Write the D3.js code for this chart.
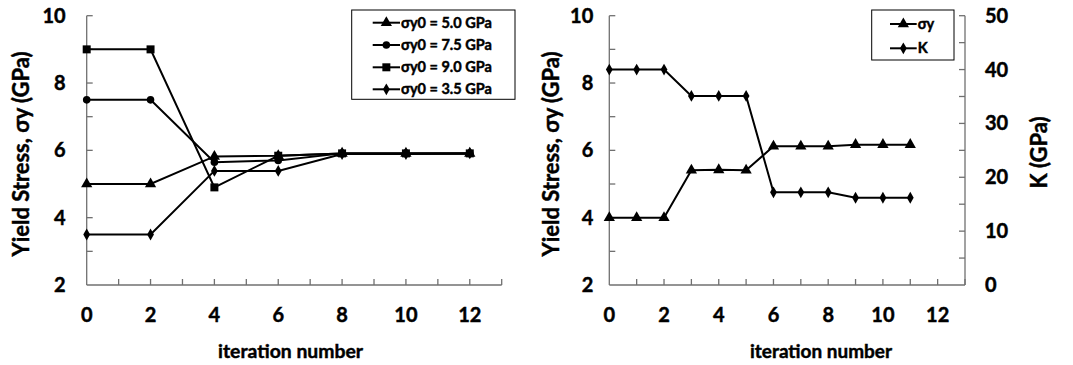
<!DOCTYPE html>
<html><head><meta charset="utf-8">
<script src="https://cdn.jsdelivr.net/npm/d3@7"></script>
<style>body{margin:0;background:#fff}svg{display:block}text{font-family:Lato,"Liberation Sans",Arial,sans-serif;font-weight:bold;fill:#000;stroke:#000;stroke-width:0.45px}</style>
</head><body>
<script>
// ---- data ----
const iterLeft = [0, 2, 4, 6, 8, 10, 12];
const sy50 = [5.0, 5.0, 5.82, 5.84, 5.91, 5.91, 5.91];
const sy75 = [7.5, 7.5, 5.65, 5.70, 5.91, 5.91, 5.91];
const sy90 = [9.0, 9.0, 4.9, 5.84, 5.91, 5.91, 5.91];
const sy35 = [3.5, 3.5, 5.39, 5.39, 5.89, 5.89, 5.91];
const leftNames = ["σy0 = 5.0 GPa", "σy0 = 7.5 GPa", "σy0 = 9.0 GPa", "σy0 = 3.5 GPa"];

const iterRight = [0, 1, 2, 3, 4, 5, 6, 7, 8, 9, 10, 11];
const sigmaY = [4.0, 4.0, 4.0, 5.41, 5.42, 5.41, 6.12, 6.12, 6.12, 6.17, 6.17, 6.17];
const kVals = [40, 40, 40, 35.1, 35.1, 35.1, 17.2, 17.2, 17.2, 16.2, 16.2, 16.2];
const rightNames = ["σy", "K"];

const xTicks = [0, 2, 4, 6, 8, 10, 12];
const yTicks = [2, 4, 6, 8, 10];
const kTicks = [0, 10, 20, 30, 40, 50];

const W = 1073, H = 365;
const svg = d3.select("body").append("svg").attr("width", W).attr("height", H);
const axisCol = "#707070";

const sym = {
  tri: d3.symbol().type(d3.symbolTriangle).size(55),
  cir: d3.symbol().type(d3.symbolCircle).size(45),
  sq: d3.symbol().type(d3.symbolSquare).size(64),
  dia: d3.symbol().type(d3.symbolDiamond).size(40)
};

// size a text so that its length matches a target width
function fit(sel, target) {
  const base = 20;
  sel.attr("font-size", base);
  const len = sel.node().getComputedTextLength();
  if (len > 0) sel.attr("font-size", base * target / len);
  return sel;
}

function drawAxes(g, x, y, opts) {
  const [x0, x1] = x.range();
  const yb = y.range()[0], yt = y.range()[1];
  g.append("line").attr("x1", x0).attr("x2", x1).attr("y1", yb).attr("y2", yb).attr("stroke", axisCol).attr("stroke-width", 1.3);
  g.append("line").attr("x1", x0).attr("x2", x0).attr("y1", yb).attr("y2", yt).attr("stroke", axisCol).attr("stroke-width", 1.3);
  d3.range(1, 14).forEach(v => {
    g.append("line").attr("x1", x(v)).attr("x2", x(v)).attr("y1", yb).attr("y2", yb - 6).attr("stroke", axisCol).attr("stroke-width", 1.3);
  });
  d3.range(3, 11).forEach(v => {
    g.append("line").attr("x1", x0).attr("x2", x0 + 6).attr("y1", y(v)).attr("y2", y(v)).attr("stroke", axisCol).attr("stroke-width", 1.3);
  });
  g.selectAll(null).data(xTicks).enter().append("text")
    .attr("x", d => x(d)).attr("y", 322).attr("text-anchor", "middle").attr("font-size", 20).text(d => d);
  g.selectAll(null).data(yTicks).enter().append("text")
    .attr("x", x0 - opts.yLabGap).attr("y", d => y(d) + 7).attr("text-anchor", "end").attr("font-size", 20).text(d => d);
  fit(g.append("text").attr("x", opts.xTitleX).attr("y", 358).attr("text-anchor", "middle").text("iteration number"), opts.xTitleW);
  fit(g.append("text").attr("transform", `translate(${opts.yTitleX},154) rotate(-90)`).attr("text-anchor", "middle").text("Yield Stress, σy (GPa)"), 205);
}

function drawSeries(g, x, y, xs, ys, s) {
  const pts = xs.map((d, i) => [x(d), y(ys[i])]);
  g.append("path").attr("d", d3.line()(pts)).attr("fill", "none").attr("stroke", "#000").attr("stroke-width", 2);
  g.selectAll(null).data(pts).enter().append("path").attr("d", s)
    .attr("transform", d => `translate(${d[0]},${d[1]})`).attr("fill", "#000");
}

function legend(g, x0, y0, w, h, names, syms, rows, lx0, lx1, fs) {
  g.append("rect").attr("x", x0).attr("y", y0).attr("width", w).attr("height", h).attr("fill", "#fff").attr("stroke", "#000").attr("stroke-width", 1);
  names.forEach((n, i) => {
    const yy = rows[i];
    g.append("line").attr("x1", lx0).attr("x2", lx1).attr("y1", yy).attr("y2", yy).attr("stroke", "#000").attr("stroke-width", 2);
    g.append("path").attr("d", syms[i]).attr("transform", `translate(${(lx0 + lx1) / 2},${yy})`).attr("fill", "#000");
    g.append("text").attr("x", lx1 + 1).attr("y", yy + 5).attr("font-size", fs).text(n);
  });
}

// ---- left chart ----
const gL = svg.append("g");
const xL = d3.scaleLinear().domain([0, 13]).range([86.7, 501.7]);
const yL = d3.scaleLinear().domain([2, 10]).range([285, 15.7]);
drawAxes(gL, xL, yL, { yLabGap: 21, yTitleX: 28.5, xTitleX: 290.5, xTitleW: 145 });
drawSeries(gL, xL, yL, iterLeft, sy50, sym.tri);
drawSeries(gL, xL, yL, iterLeft, sy75, sym.cir);
drawSeries(gL, xL, yL, iterLeft, sy90, sym.sq);
drawSeries(gL, xL, yL, iterLeft, sy35, sym.dia);
legend(gL, 351.7, 10, 163.3, 89.3, leftNames, [sym.tri, sym.cir, sym.sq, sym.dia], [22.7, 45, 67.3, 89.3], 372.7, 400, 14.5);

// ---- right chart ----
const gR = svg.append("g");
const xR = d3.scaleLinear().domain([0, 13]).range([609.3, 965]);
const yR = d3.scaleLinear().domain([2, 10]).range([285, 15.7]);
const kR = d3.scaleLinear().domain([0, 50]).range([285, 15.7]);
drawAxes(gR, xR, yR, { yLabGap: 16, yTitleX: 558.5, xTitleX: 821, xTitleW: 142 });
gR.append("line").attr("x1", 965).attr("x2", 965).attr("y1", kR(0)).attr("y2", kR(50)).attr("stroke", axisCol).attr("stroke-width", 1.3);
d3.range(5, 51, 5).forEach(v => {
  gR.append("line").attr("x1", 965).attr("x2", 959).attr("y1", kR(v)).attr("y2", kR(v)).attr("stroke", axisCol).attr("stroke-width", 1.3);
});
gR.selectAll(null).data(kTicks).enter().append("text")
  .attr("x", 985).attr("y", d => kR(d) + 7).attr("text-anchor", "start").attr("font-size", 20).text(d => d);
fit(gR.append("text").attr("transform", `translate(1047,152.5) rotate(-90)`).attr("text-anchor", "middle").text("K (GPa)"), 72);
drawSeries(gR, xR, yR, iterRight, sigmaY, sym.tri);
drawSeries(gR, xR, kR, iterRight, kVals, sym.dia);
legend(gR, 871.7, 10, 82.3, 50, rightNames, [sym.tri, sym.dia], [24, 48.3], 890, 916.7, 14.5);
</script>
</body></html>
